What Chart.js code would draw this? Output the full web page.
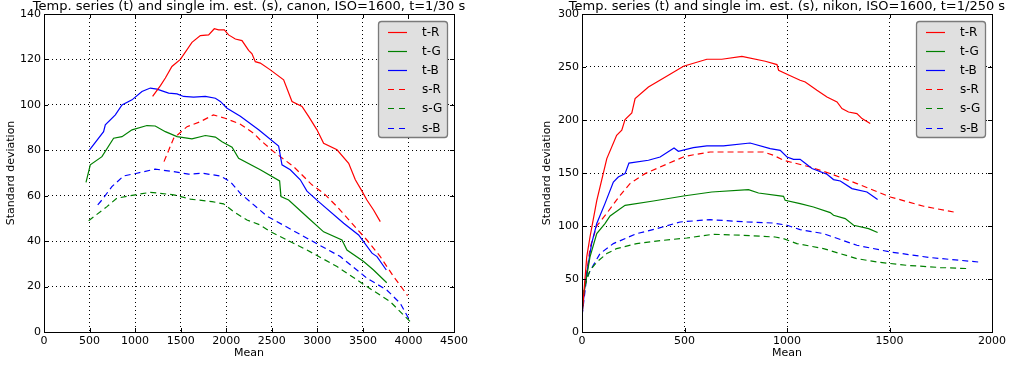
<!DOCTYPE html>
<html>
<head>
<meta charset="utf-8">
<script src="https://cdn.jsdelivr.net/npm/chart.js@4.4.1/dist/chart.umd.min.js"></script>
<style>
body { margin: 0; background: #fff; width: 1016px; height: 365px; overflow: hidden; position: relative; }
canvas { position: absolute; top: 0; }
#canonChart { left: 0; }
#nikonChart { left: 536px; }
</style>
</head>
<body>
<canvas id="canonChart" width="480" height="365"></canvas>
<canvas id="nikonChart" width="480" height="365"></canvas>
<script>
// [mean, standard deviation] pairs
const seriesNames = ['t-R', 't-G', 't-B', 's-R', 's-G', 's-B'];

const canonTR = [[1192,103.7],[1278,108.5],[1332,111.8],[1404,116.9],[1497,120],[1624,127.5],[1716,130.5],[1807,130.8],[1869,133.5],[1917,133],[1979,133],[2026,130.8],[2100,129],[2173,128.3],[2246,124],[2283,122.5],[2319,119],[2374,118.4],[2484,115.4],[2630,111],[2722,101.5],[2832,99.3],[2904,94.9],[2996,89],[3069,83.1],[3216,80.2],[3344,74.3],[3417,67],[3490,62],[3544,58.1],[3617,53.7],[3691,48.6]];
const canonTG = [[461,65.9],[508,73.6],[636,77.2],[764,85.3],[856,86],[966,89],[1130,90.9],[1221,90.7],[1332,88.2],[1460,86],[1624,85],[1771,86.5],[1881,85.8],[1954,83.8],[2064,81.4],[2136,76.5],[2374,71.4],[2586,66.5],[2601,59.6],[2685,58.1],[2904,50.1],[3069,44.1],[3270,40.5],[3325,36.1],[3508,31],[3617,27.3],[3762,21.7]];
const canonTB = [[500,80.2],[654,88.2],[673,91.2],[783,95.6],[856,100],[966,102.2],[1075,105.9],[1167,107.4],[1240,106.9],[1368,105.2],[1460,104.8],[1532,103.7],[1642,103.4],[1771,103.7],[1881,102.9],[1935,101.5],[2009,98.5],[2155,95],[2356,89],[2575,81.9],[2612,73.6],[2703,71.4],[2813,67],[2886,62],[3014,57.4],[3289,47.9],[3453,42.7],[3600,34.7],[3655,33.2],[3757,27.3]];
const canonSR = [[1317,75],[1423,85.3],[1570,90.4],[1716,92.6],[1859,95.6],[1987,94.1],[2155,91.5],[2301,87.5],[2374,84.5],[2520,79.4],[2740,72.8],[2941,64.8],[3069,61.1],[3216,55.2],[3544,40.5],[3691,33.2],[3837,24.4],[3946,18.5],[3990,16]];
const canonSG = [[490,49],[691,55.2],[800,58.9],[1002,60.4],[1167,61.5],[1423,60.4],[1606,58.5],[1844,57.4],[1971,56.4],[2081,53],[2228,49.3],[2374,47.1],[2484,44.2],[2886,36.1],[3216,28.8],[3544,20],[3801,13.3],[4021,4.5]];
const canonSB = [[590,56],[635,58.1],[745,64],[874,68.7],[1020,69.9],[1221,71.7],[1423,70.6],[1587,69.5],[1734,69.9],[1935,68.7],[2045,66.2],[2155,61],[2448,51],[2886,41.3],[3252,33.2],[3544,23.7],[3762,18.5],[3911,12.6],[4002,6]];

const nikonTR = [[0,15],[23,70.8],[39,89.6],[72,124],[121,163.6],[169,185.6],[194,190.3],[210,200.4],[243,206.6],[259,220.2],[324,231.1],[413,241.2],[495,250.7],[609,257.3],[682,257.3],[780,260.1],[894,255.4],[951,252.3],[959,246.9],[1000,243.1],[1064,237.5],[1089,235.8],[1146,228],[1195,221.7],[1244,217],[1268,210.8],[1300,207.5],[1341,206],[1366,201.3],[1406,196.6]];
const nikonTG = [[0,15],[6,33],[39,70.8],[72,92.8],[112,102.3],[137,109.4],[210,119.5],[348,123.6],[495,128.3],[633,132.1],[812,134.3],[861,131.1],[983,128],[991,124.2],[1064,121.1],[1129,117.9],[1211,112.6],[1227,110.1],[1284,107],[1325,100.7],[1398,97.5],[1442,93.8]];
const nikonTB = [[0,15],[15,45.7],[47,83.4],[72,102.3],[112,121.1],[153,141.5],[177,146.2],[210,149.4],[229,159.4],[324,162],[381,165.1],[449,173.6],[470,170.5],[543,174],[609,175.5],[690,175.5],[820,178.3],[918,173],[967,171.4],[1000,165.1],[1032,162.9],[1064,162.9],[1081,160.4],[1122,154.2],[1195,148.8],[1227,143.8],[1260,142.5],[1317,135.3],[1390,132.1],[1442,124.9]];
const nikonSR = [[0,15],[15,45],[40,80],[72,100],[121,112],[186,129],[234,140],[308,149.4],[381,155.7],[503,165.8],[625,169.8],[755,169.8],[885,169.8],[934,166.7],[983,162],[1016,160.4],[1113,155.7],[1211,149.4],[1341,140],[1504,127.4],[1667,118.6],[1813,113.2]];
const nikonSG = [[0,15],[6,39],[39,58],[72,66],[121,74],[169,78.7],[267,83.4],[397,86.5],[511,88.7],[641,92.2],[788,91.2],[942,89.6],[983,88.1],[1048,83.4],[1178,78.7],[1341,69.2],[1439,66],[1585,62.9],[1748,60.8],[1886,59.8]];
const nikonSB = [[0,15],[23,51.9],[55,62.9],[88,74],[153,83.4],[267,92.8],[365,97.5],[479,103.8],[625,106],[804,103.8],[934,102.8],[1000,100.7],[1064,96.6],[1178,92.8],[1341,81.8],[1504,75.5],[1699,70.2],[1935,66]];

const seriesColors = ['#ff0000', '#008000', '#0000ff', '#ff0000', '#008000', '#0000ff'];

Chart.defaults.font.family = 'DejaVu Sans';
Chart.defaults.color = '#000';

function makeDatasets(list) {
  return list.map((pairs, i) => ({
    label: seriesNames[i],
    data: pairs.map(p => ({ x: p[0], y: p[1] })),
    borderColor: seriesColors[i],
    borderWidth: 1.2,
    borderDash: i >= 3 ? [6, 4] : [],
    pointRadius: 0,
    fill: false,
    tension: 0
  }));
}

// matplotlib-style frame, inner ticks, title and boxed legend
const mplFrame = {
  id: 'mplFrame',
  afterDatasetsDraw(chart, args, opts) {
    const ctx = chart.ctx;
    const a = chart.chartArea;
    const xs = chart.scales.x, ys = chart.scales.y;
    ctx.save();
    ctx.strokeStyle = '#000';
    ctx.lineWidth = 1;
    ctx.setLineDash([]);
    ctx.beginPath();
    xs.ticks.forEach(t => {
      const px = Math.round(xs.getPixelForValue(t.value)) + 0.5;
      ctx.moveTo(px, a.bottom); ctx.lineTo(px, a.bottom - 4);
      ctx.moveTo(px, a.top); ctx.lineTo(px, a.top + 4);
    });
    ys.ticks.forEach(t => {
      const py = Math.round(ys.getPixelForValue(t.value)) + 0.5;
      ctx.moveTo(a.left, py); ctx.lineTo(a.left + 4, py);
      ctx.moveTo(a.right, py); ctx.lineTo(a.right - 4, py);
    });
    ctx.stroke();
    ctx.strokeRect(Math.round(a.left) + 0.5, Math.round(a.top) + 0.5,
      Math.round(a.right - a.left), Math.round(a.bottom - a.top));

    // title
    ctx.font = '13px "DejaVu Sans"';
    ctx.fillStyle = '#000';
    ctx.textAlign = 'center';
    ctx.textBaseline = 'alphabetic';
    ctx.fillText(opts.title, (a.left + a.right) / 2, 10);

    // legend
    const bw = 69, bh = 116;
    const bx = a.right - 7 - bw, by = a.top + 7;
    ctx.beginPath();
    ctx.roundRect(bx + 0.5, by + 0.5, bw, bh, 3);
    ctx.fillStyle = '#e0e0e0';
    ctx.fill();
    ctx.strokeStyle = '#7a7a7a';
    ctx.lineWidth = 1.3;
    ctx.stroke();
    ctx.font = '12px "DejaVu Sans"';
    ctx.textAlign = 'left';
    ctx.textBaseline = 'middle';
    chart.data.datasets.forEach((ds, i) => {
      const y = Math.round(by + 11 + i * 19.1) + 0.5;
      ctx.beginPath();
      ctx.strokeStyle = seriesColors[i];
      ctx.lineWidth = 1.2;
      ctx.setLineDash(i >= 3 ? [6, 5] : []);
      ctx.moveTo(bx + 10, y);
      ctx.lineTo(bx + 29, y);
      ctx.stroke();
      ctx.setLineDash([]);
      ctx.fillStyle = '#000';
      ctx.fillText(ds.label, bx + 44, y);
    });
    ctx.restore();
  }
};

function buildChart(id, series, title, xMax, yMax, yStep, yWidth, padRight) {
  return new Chart(document.getElementById(id), {
    type: 'line',
    data: { datasets: makeDatasets(series) },
    options: {
      responsive: false,
      animation: false,
      layout: { padding: { top: 14, right: padRight, bottom: 0, left: 0 } },
      plugins: {
        legend: { display: false },
        tooltip: { enabled: false },
        mplFrame: { title: title }
      },
      scales: {
        x: {
          type: 'linear',
          min: 0, max: xMax,
          afterFit(s) { s.height = 33; },
          ticks: { stepSize: 500, autoSkip: false, maxRotation: 0, padding: 3,
            font: { size: 11 }, callback: v => String(v) },
          grid: { color: '#000', lineWidth: 1, drawTicks: false },
          border: { display: false, dash: [1, 3] },
          title: { display: true, text: 'Mean', font: { size: 11 }, padding: { top: 0, bottom: 5 } }
        },
        y: {
          type: 'linear',
          min: 0, max: yMax,
          afterFit(s) { s.width = yWidth; },
          ticks: { stepSize: yStep, autoSkip: false, padding: 3,
            font: { size: 11 }, callback: v => String(v) },
          grid: { color: '#000', lineWidth: 1, drawTicks: false },
          border: { display: false, dash: [1, 3] },
          title: { display: true, text: 'Standard deviation', font: { size: 11 }, padding: { top: 5, bottom: 0 } }
        }
      }
    },
    plugins: [mplFrame]
  });
}

buildChart('canonChart', [canonTR, canonTG, canonTB, canonSR, canonSG, canonSB],
  'Temp. series (t) and single im. est. (s), canon, ISO=1600, t=1/30 s', 4500, 140, 20, 44, 26);
buildChart('nikonChart', [nikonTR, nikonTG, nikonTB, nikonSR, nikonSG, nikonSB],
  'Temp. series (t) and single im. est. (s), nikon, ISO=1600, t=1/250 s', 2000, 300, 50, 46, 24);
</script>
</body>
</html>
